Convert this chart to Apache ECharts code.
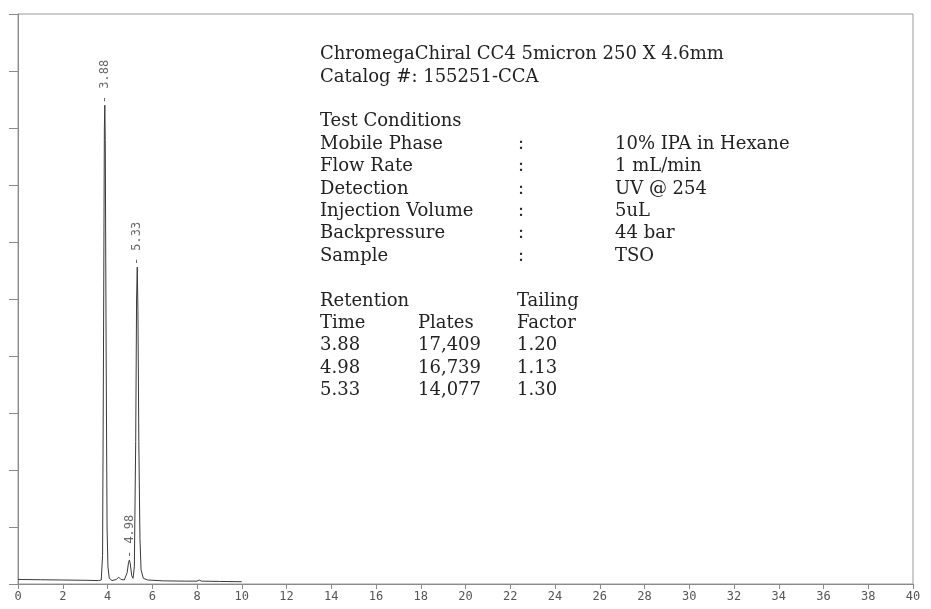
<!DOCTYPE html>
<html>
<head>
<meta charset="utf-8">
<script src="https://cdn.jsdelivr.net/npm/echarts@6/dist/echarts.min.js"></script>
<style>
html,body{margin:0;padding:0;background:#fff;}
#chart{width:931px;height:609px;}
</style>
</head>
<body>
<div id="chart"></div>
<script>
// Chromatogram trace: [time (min), detector response (% of axis)]
var traceTime = [0, 1, 2, 3, 3.6, 3.72, 3.78, 3.82, 3.86, 3.88, 3.90, 3.94, 3.98, 4.02, 4.08, 4.2, 4.4, 4.5, 4.6, 4.75, 4.88, 4.94, 4.98, 5.02, 5.08, 5.14, 5.2, 5.26, 5.3, 5.33, 5.36, 5.40, 5.45, 5.5, 5.6, 5.8, 6.5, 7.5, 8.0, 8.1, 8.2, 9, 10];
var traceSignal = [0.8, 0.75, 0.7, 0.65, 0.6, 0.7, 5, 40, 80, 84, 78, 40, 10, 3, 1.0, 0.6, 0.8, 1.2, 0.8, 0.7, 2, 3.8, 4.2, 3.5, 1.5, 1.0, 3, 25, 50, 55.6, 48, 25, 8, 2.5, 1.0, 0.7, 0.55, 0.5, 0.5, 0.7, 0.5, 0.45, 0.4];

// Labelled peaks
var peakTimes = [3.88, 4.98, 5.33];
var peakHeights = [84, 4.2, 55.6];

// Results table
var retentionTimes = ['3.88', '4.98', '5.33'];
var plates = ['17,409', '16,739', '14,077'];
var tailingFactors = ['1.20', '1.13', '1.30'];

// Header and test conditions
var titleLines = ['ChromegaChiral CC4 5micron 250 X 4.6mm', 'Catalog #: 155251-CCA'];
var conditionNames = ['Mobile Phase', 'Flow Rate', 'Detection', 'Injection Volume', 'Backpressure', 'Sample'];
var conditionValues = ['10% IPA in Hexane', '1 mL/min', 'UV @ 254', '5uL', '44 bar', 'TSO'];

// Axis ticks
var xTickLabels = [0, 2, 4, 6, 8, 10, 12, 14, 16, 18, 20, 22, 24, 26, 28, 30, 32, 34, 36, 38, 40];

var chart = echarts.init(document.getElementById('chart'), null, {renderer: 'canvas'});

var serif = '"DejaVu Serif", serif';
var textColor = '#222';
var fs = 18;
var pitch = 22.4;
var y0 = 53.5;
var colA = 320, colColon = 518, colVal = 615, colPlates = 418, colTail = 517;

var graphics = [];
function addText(x, row, str) {
  graphics.push({
    type: 'text', left: x, top: y0 + row * pitch - 8,
    style: {text: str, font: fs + 'px ' + serif, fill: textColor}
  });
}
titleLines.forEach(function (t, i) { addText(colA, i, t); });
addText(colA, 3, 'Test Conditions');
conditionNames.forEach(function (n, i) {
  addText(colA, 4 + i, n);
  addText(colColon, 4 + i, ':');
  addText(colVal, 4 + i, conditionValues[i]);
});
addText(colA, 11, 'Retention');
addText(colTail, 11, 'Tailing');
addText(colA, 12, 'Time');
addText(colPlates, 12, 'Plates');
addText(colTail, 12, 'Factor');
retentionTimes.forEach(function (t, i) {
  addText(colA, 13 + i, t);
  addText(colPlates, 13 + i, plates[i]);
  addText(colTail, 13 + i, tailingFactors[i]);
});

var traceData = traceTime.map(function (t, i) { return [t, traceSignal[i]]; });
var peakData = peakTimes.map(function (t, i) { return [t, peakHeights[i]]; });

chart.setOption({
  backgroundColor: '#ffffff',
  animation: false,
  grid: {left: 18, right: 18, top: 14, bottom: 25, show: true, borderColor: '#9a9a9a', borderWidth: 1},
  xAxis: {
    type: 'value', min: 0, max: 40, interval: 2,
    axisLine: {lineStyle: {color: '#8a8a8a', width: 1}},
    axisTick: {show: true, inside: false, length: 5, lineStyle: {color: '#8a8a8a'}},
    axisLabel: {
      color: '#555', fontFamily: '"DejaVu Sans Mono", monospace', fontSize: 12, margin: 7,
      formatter: function (v) { return xTickLabels.indexOf(v) >= 0 ? String(v) : ''; }
    },
    splitLine: {show: false}
  },
  yAxis: {
    type: 'value', min: 0, max: 100, interval: 10,
    axisLine: {show: true, lineStyle: {color: '#8a8a8a', width: 1}},
    axisTick: {show: true, inside: false, length: 9, lineStyle: {color: '#8a8a8a'}},
    axisLabel: {show: false},
    splitLine: {show: false}
  },
  series: [
    {
      type: 'line', data: traceData, showSymbol: false, symbol: 'none',
      lineStyle: {color: '#3a3a3a', width: 1}, z: 3
    },
    {
      type: 'scatter', data: peakData, symbolSize: 0, silent: true,
      label: {
        show: true, position: 'top', distance: 2, rotate: 90,
        align: 'left', verticalAlign: 'middle',
        fontFamily: '"DejaVu Sans Mono", monospace', fontSize: 12, color: '#444',
        formatter: function (p) { return '- ' + p.value[0].toFixed(2); }
      }
    }
  ],
  graphic: graphics
});
</script>
</body>
</html>
